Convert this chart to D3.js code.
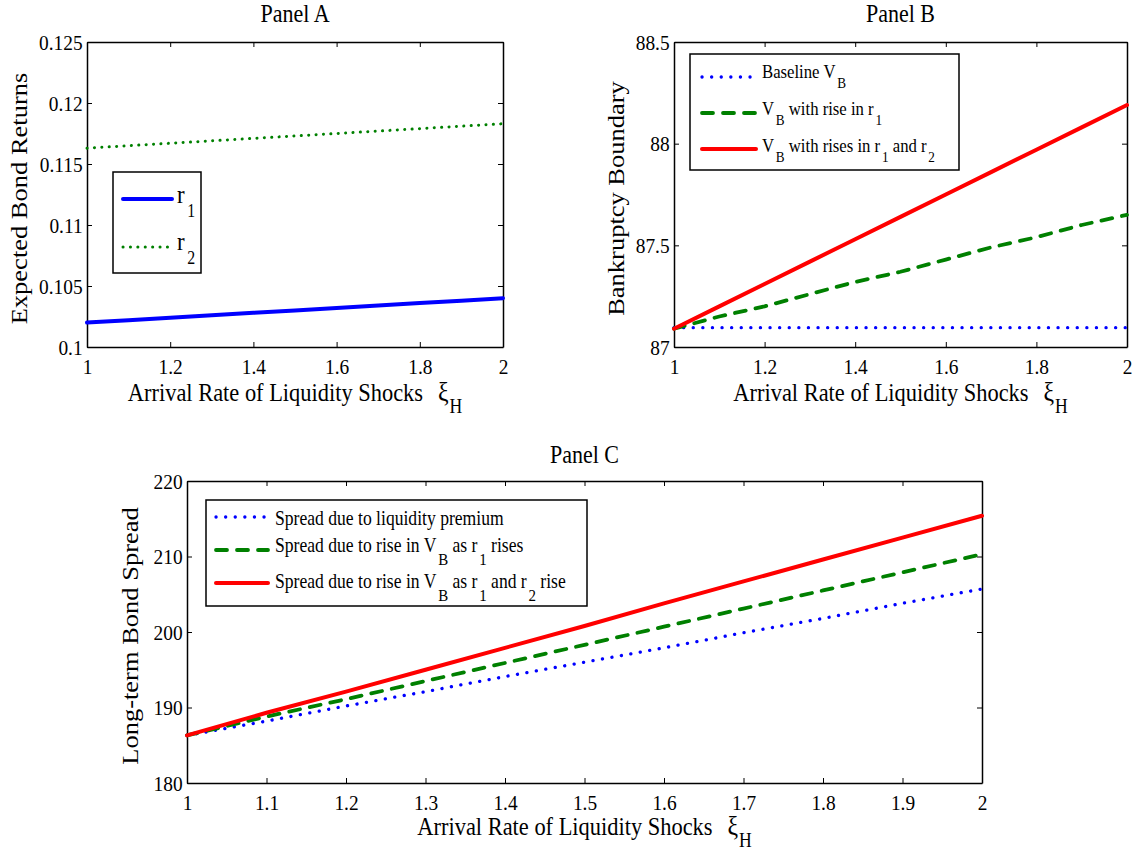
<!DOCTYPE html>
<html>
<head>
<meta charset="utf-8">
<script src="https://cdn.jsdelivr.net/npm/d3@7"></script>
<style>
  body { margin: 0; background: #fff; }
  svg text { font-family: "Liberation Serif", "Times New Roman", serif; fill: #000; }
</style>
</head>
<body>
<div id="chart"></div>
<script>
// data
var xiAB = [1, 1.1, 1.2, 1.3, 1.4, 1.5, 1.6, 1.7, 1.8, 1.9, 2];
var rOne = [0.1020, 0.1022, 0.1024, 0.1026, 0.1028, 0.1030, 0.1032, 0.1034, 0.1036, 0.1038, 0.1040];
var rTwo = [0.1163, 0.1165, 0.1167, 0.1169, 0.1171, 0.1173, 0.1175, 0.1177, 0.1179, 0.1181, 0.1183];

var vbBase = [87.095, 87.095, 87.095, 87.095, 87.095, 87.095, 87.095, 87.095, 87.095, 87.095, 87.095];
var vbR1   = [87.09, 87.15, 87.20, 87.26, 87.32, 87.37, 87.43, 87.49, 87.54, 87.60, 87.65];
var vbR12  = [87.09, 87.20, 87.31, 87.42, 87.53, 87.64, 87.75, 87.86, 87.97, 88.08, 88.19];

var xiC = [1, 1.1, 1.2, 1.3, 1.4, 1.5, 1.6, 1.7, 1.8, 1.9, 2];
var spreadLiq = [186.3, 188.2, 190.2, 192.1, 194.1, 196.0, 197.9, 199.9, 201.8, 203.8, 205.7];
var spreadR1  = [186.3, 188.8, 191.1, 193.5, 195.9, 198.3, 200.7, 203.1, 205.5, 207.9, 210.3];
var spreadR12 = [186.3, 189.3, 192.1, 195.0, 197.9, 200.8, 203.8, 206.7, 209.6, 212.5, 215.4];

var ticksA = [0.1, 0.105, 0.11, 0.115, 0.12, 0.125];
var ticksB = [87, 87.5, 88, 88.5];
var ticksC = [180, 190, 200, 210, 220];
var xTicksAB = [1, 1.2, 1.4, 1.6, 1.8, 2];
var xTicksC = [1, 1.1, 1.2, 1.3, 1.4, 1.5, 1.6, 1.7, 1.8, 1.9, 2];

var blue = "#0000ff", green = "#008000", red = "#ff0000";
var SX = 0.88; // text in the picture is a bit narrow

var svg = d3.select("#chart").append("svg")
  .attr("width", 1138)
  .attr("height", 852);

// text made of plain parts and subscripts
function richText(parent, x, y, parts, o) {
  var tr = o.rotate
    ? `translate(${x}, ${y}) rotate(-90) scale(1, ${SX})`
    : `translate(${x}, ${y}) scale(${SX}, 1)`;
  var t = parent.append("text")
    .attr("transform", tr)
    .attr("text-anchor", o.anchor || "start")
    .style("font-size", o.size + "px");
  var down = false;
  parts.forEach(function(p) {
    var s = t.append("tspan");
    if (p.sub) {
      s.attr("dx", o.subDx || 0).attr("dy", o.drop)
        .style("font-size", (o.subSize || o.size * 0.8) + "px").text(p.sub);
      down = true;
    } else {
      if (down) s.attr("dy", -o.drop);
      if (p.dx) s.attr("dx", p.dx);
      if (p.size) s.style("font-size", p.size + "px");
      s.text(p.t);
      down = false;
    }
  });
  return t;
}

// one boxed panel, matlab style ticks inside on all four sides
function panel(o) {
  var x = d3.scaleLinear().domain([1, 2]).range([o.left, o.right]);
  var y = d3.scaleLinear().domain(o.yDomain).range([o.bottom, o.top]);
  var g = svg.append("g");

  g.append("g")
    .attr("transform", `translate(0, ${o.bottom})`)
    .call(d3.axisBottom(x).tickValues(o.xTicks).tickSizeInner(-5).tickSizeOuter(0).tickPadding(11).tickFormat(d3.format("")));
  g.append("g")
    .attr("transform", `translate(0, ${o.top})`)
    .call(d3.axisTop(x).tickValues(o.xTicks).tickSizeInner(-5).tickSizeOuter(0).tickFormat(""));
  g.append("g")
    .attr("transform", `translate(${o.left}, 0)`)
    .call(d3.axisLeft(y).tickValues(o.yTicks).tickSizeInner(-5).tickSizeOuter(0).tickPadding(5).tickFormat(d3.format("")));
  g.append("g")
    .attr("transform", `translate(${o.right}, 0)`)
    .call(d3.axisRight(y).tickValues(o.yTicks).tickSizeInner(-5).tickSizeOuter(0).tickFormat(""));

  g.selectAll("g").attr("font-family", null).attr("font-size", null);
  g.selectAll(".domain").attr("stroke", "#000").attr("stroke-width", 1.5);
  g.selectAll(".tick line").attr("stroke", "#000").attr("stroke-width", 1);
  g.selectAll(".tick text")
    .style("font-size", "22px")
    .attr("fill", "#000")
    .attr("transform", `scale(${SX}, 1)`);

  var line = d3.line().x(function(d) { return x(d[0]); }).y(function(d) { return y(d[1]); });
  o.series.forEach(function(s) {
    g.append("path")
      .datum(o.xs.map(function(v, i) { return [v, s.values[i]]; }))
      .attr("d", line)
      .attr("fill", "none")
      .attr("stroke", s.color)
      .attr("stroke-width", s.width)
      .attr("stroke-linecap", "round")
      .attr("stroke-dasharray", s.dash);
  });

  richText(g, (o.left + o.right) / 2, o.titleY, [{ t: o.title }], { size: 25, anchor: "middle" });

  richText(g, o.yLabelX, (o.top + o.bottom) / 2 + 4, [{ t: o.yLabel }], { size: 26.5, anchor: "middle", rotate: true });

  richText(g, (o.left + o.right) / 2, o.bottom + o.xLabelDy,
    [{ t: "Arrival Rate of Liquidity Shocks" }, { t: "ξ", dx: 17, size: 27 }, { sub: "H" }],
    { size: 25.5, anchor: "middle", drop: 12, subSize: 20, subDx: 1 });

  // legend
  var L = o.legend;
  var lg = g.append("g");
  lg.append("rect")
    .attr("x", L.x).attr("y", L.y)
    .attr("width", L.w).attr("height", L.h)
    .attr("fill", "#fff").attr("stroke", "#000").attr("stroke-width", 1.5);
  o.series.forEach(function(s, i) {
    var ly = L.rows[i];
    lg.append("line")
      .attr("x1", L.x1).attr("x2", L.x2)
      .attr("y1", ly).attr("y2", ly)
      .attr("stroke", s.color).attr("stroke-width", s.width)
      .attr("stroke-linecap", "round")
      .attr("stroke-dasharray", s.dash);
    richText(lg, L.tx, L.base[i], s.label,
      { size: L.fs, drop: L.drop, subSize: L.subFs, subDx: L.subDx });
  });
}

panel({
  left: 87, right: 503, top: 42, bottom: 347, titleY: 22, xLabelDy: 54,
  yDomain: [0.1, 0.125], yTicks: ticksA, xTicks: xTicksAB, xs: xiAB,
  title: "Panel A", yLabel: "Expected Bond Returns", yLabelX: 27,
  series: [
    { values: rOne, color: blue, width: 4, dash: null, label: [{ t: "r" }, { sub: "1" }] },
    { values: rTwo, color: green, width: 3, dash: "0.1 7.3", label: [{ t: "r" }, { sub: "2" }] }
  ],
  legend: { x: 113, y: 172, w: 88, h: 101, x1: 123, x2: 172, tx: 177,
            rows: [199, 247], base: [203, 250], fs: 26, subFs: 18, drop: 14, subDx: 3 }
});

panel({
  left: 674, right: 1127, top: 42, bottom: 347, titleY: 22, xLabelDy: 54,
  yDomain: [87, 88.5], yTicks: ticksB, xTicks: xTicksAB, xs: xiAB,
  title: "Panel B", yLabel: "Bankruptcy Boundary", yLabelX: 624,
  series: [
    { values: vbBase, color: blue, width: 3.3, dash: "0.1 9.5", label: [{ t: "Baseline V" }, { sub: "B" }] },
    { values: vbR1, color: green, width: 3.8, dash: "11 10", label: [{ t: "V" }, { sub: "B" }, { t: " with rise in r" }, { sub: "1" }] },
    { values: vbR12, color: red, width: 4, dash: null, label: [{ t: "V" }, { sub: "B" }, { t: " with rises in r" }, { sub: "1" }, { t: " and r" }, { sub: "2" }] }
  ],
  legend: { x: 690, y: 54, w: 269, h: 116, x1: 702, x2: 756, tx: 762,
            rows: [77, 113, 149], base: [78, 115, 152], fs: 19, subFs: 15, drop: 10, subDx: 2 }
});

panel({
  left: 187, right: 982, top: 481, bottom: 783, titleY: 463, xLabelDy: 52,
  yDomain: [180, 220], yTicks: ticksC, xTicks: xTicksC, xs: xiC,
  title: "Panel C", yLabel: "Long-term Bond Spread", yLabelX: 138,
  series: [
    { values: spreadLiq, color: blue, width: 3.3, dash: "0.1 9.5", label: [{ t: "Spread due to liquidity premium" }] },
    { values: spreadR1, color: green, width: 3.8, dash: "11 10", label: [{ t: "Spread due to rise in V" }, { sub: "B" }, { t: " as r" }, { sub: "1" }, { t: " rises" }] },
    { values: spreadR12, color: red, width: 4, dash: null, label: [{ t: "Spread due to rise in V" }, { sub: "B" }, { t: " as r" }, { sub: "1" }, { t: " and r" }, { sub: "2" }, { t: " rise" }] }
  ],
  legend: { x: 206, y: 500, w: 381, h: 106, x1: 216, x2: 268, tx: 275,
            rows: [517, 550, 583], base: [525, 552, 588], fs: 20, subFs: 17, drop: 13, subDx: 2 }
});
</script>
</body>
</html>
